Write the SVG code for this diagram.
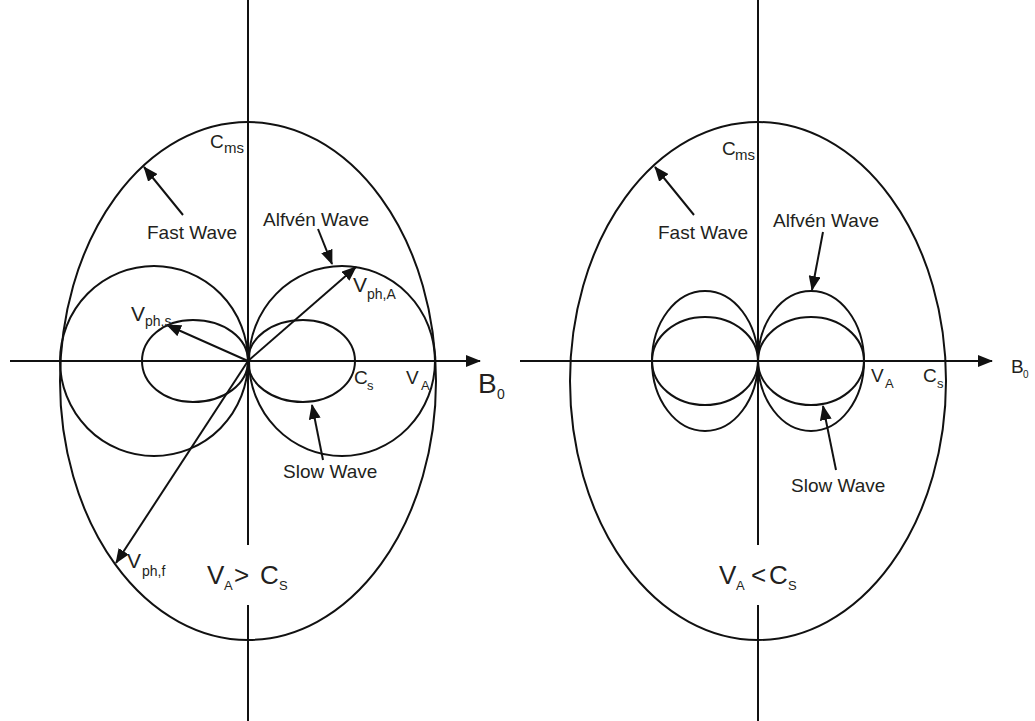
<svg xmlns="http://www.w3.org/2000/svg" width="1035" height="721" viewBox="0 0 1035 721">
<style>
.ln{stroke:#111;stroke-width:2;fill:none}
.ar{stroke:#111;stroke-width:2;fill:none;marker-end:url(#ah)}
text{font-family:"Liberation Sans",Arial,sans-serif;fill:#231f20}
.lb{font-size:19px}
.vb{font-size:21px}
.sb{font-size:14px}
.sm{font-size:15px}
.ss{font-size:13px}
</style>
<defs>
<marker id="ah" viewBox="0 0 15 12" refX="14" refY="6" markerWidth="15" markerHeight="12" markerUnits="userSpaceOnUse" orient="auto">
<path d="M0,0 L15,6 L0,12 Z" fill="#111"/>
</marker>
</defs>
<rect width="1035" height="721" fill="#fff"/>

<g id="left-diagram">
  <g id="left-axes">
    <line class="ln" x1="248" y1="0" x2="248" y2="545"/>
    <line class="ln" x1="248" y1="605" x2="248" y2="721"/>
    <line class="ar" x1="10" y1="361" x2="480" y2="361"/>
  </g>
  <g id="left-fast-wave">
    <ellipse class="ln" cx="248" cy="381" rx="188" ry="259"/>
  </g>
  <g id="left-alfven-wave">
    <ellipse class="ln" cx="154" cy="361" rx="94" ry="95"/>
    <ellipse class="ln" cx="342" cy="361" rx="93" ry="95"/>
  </g>
  <g id="left-slow-wave">
    <path class="ln" d="M248,361 C248,338 272,320 303,320 C333,320 355,339 355,361 C355,383 333,402 303,402 C272,402 248,384 248,361 Z"/>
    <path class="ln" d="M248,361 C248,338 224,320 193,320 C163,320 142,339 142,361 C142,383 163,402 193,402 C224,402 248,384 248,361 Z"/>
  </g>
  <g id="left-connectors">
    <line class="ar" x1="248" y1="361" x2="167" y2="325"/>
    <line class="ar" x1="248" y1="361" x2="356" y2="267"/>
    <line class="ar" x1="248" y1="361" x2="116" y2="563"/>
    <line class="ar" x1="183" y1="215" x2="144" y2="167"/>
    <line class="ar" x1="318" y1="229" x2="332" y2="264"/>
    <line class="ar" x1="323" y1="460" x2="312" y2="405"/>
  </g>
  <g id="left-labels">
    <text class="lb" x="210" y="148">C</text><text class="sm" x="224" y="153">ms</text>
    <text class="lb" x="147" y="239">Fast Wave</text>
    <text class="lb" x="263" y="226">Alfvén Wave</text>
    <text class="vb" x="353" y="292">V</text><text class="sb" x="367" y="299">ph,A</text>
    <text class="vb" x="131" y="321">V</text><text class="sb" x="145" y="326">ph,s</text>
    <text class="lb" x="354" y="384">C</text><text class="ss" x="367" y="390">s</text>
    <text class="lb" x="406" y="384">V</text><text class="ss" x="421" y="390">A</text>
    <text x="478" y="393" style="font-size:28px">B</text><text x="497" y="399" style="font-size:14px">0</text>
    <text class="lb" x="283" y="478">Slow Wave</text>
    <text class="vb" x="127" y="568">V</text><text class="sb" x="142" y="576">ph,f</text>
    <text x="207" y="584" style="font-size:26px">V</text><text class="ss" x="224" y="590">A</text>
    <text x="234" y="584" style="font-size:26px">&gt;</text>
    <text x="260" y="584" style="font-size:26px">C</text><text class="ss" x="279" y="590">S</text>
  </g>
</g>

<g id="right-diagram">
  <g id="right-axes">
    <line class="ln" x1="758" y1="0" x2="758" y2="545"/>
    <line class="ln" x1="758" y1="605" x2="758" y2="721"/>
    <line class="ar" x1="520" y1="361" x2="992" y2="361"/>
  </g>
  <g id="right-fast-wave">
    <ellipse class="ln" cx="758" cy="381" rx="188" ry="259"/>
  </g>
  <g id="right-alfven-wave">
    <ellipse class="ln" cx="705" cy="361" rx="53" ry="70"/>
    <ellipse class="ln" cx="811" cy="361" rx="53" ry="70"/>
  </g>
  <g id="right-slow-wave">
    <ellipse class="ln" cx="705" cy="361" rx="53" ry="44"/>
    <ellipse class="ln" cx="811" cy="361" rx="53" ry="44"/>
  </g>
  <g id="right-connectors">
    <line class="ar" x1="694" y1="215" x2="655" y2="167"/>
    <line class="ar" x1="823" y1="232" x2="812" y2="290"/>
    <line class="ar" x1="836" y1="470" x2="823" y2="406"/>
  </g>
  <g id="right-labels">
    <text class="lb" x="722" y="155">C</text><text class="sm" x="735" y="160">ms</text>
    <text class="lb" x="658" y="239">Fast Wave</text>
    <text class="lb" x="773" y="227">Alfvén Wave</text>
    <text class="lb" x="871" y="382">V</text><text class="ss" x="885" y="388">A</text>
    <text class="lb" x="923" y="382">C</text><text class="ss" x="937" y="388">s</text>
    <text x="1011" y="373" style="font-size:19px">B</text><text x="1023" y="378" style="font-size:10px">0</text>
    <text class="lb" x="791" y="492">Slow Wave</text>
    <text x="719" y="584" style="font-size:26px">V</text><text class="ss" x="736" y="590">A</text>
    <text x="751" y="584" style="font-size:26px">&lt;</text>
    <text x="769" y="584" style="font-size:26px">C</text><text class="ss" x="788" y="590">S</text>
  </g>
</g>
</svg>
